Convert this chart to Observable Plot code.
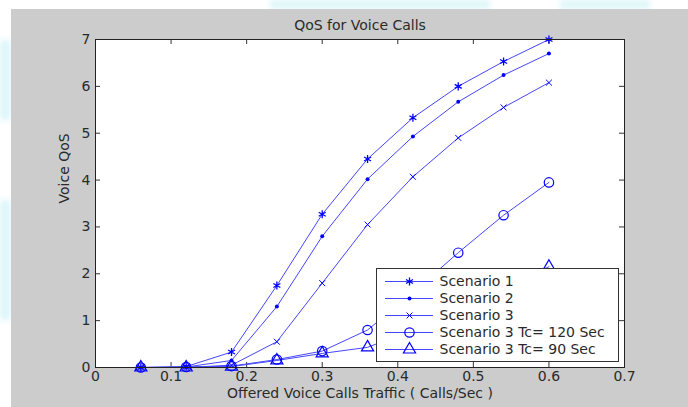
<!DOCTYPE html>
<html><head><meta charset="utf-8">
<script src="https://cdn.jsdelivr.net/npm/d3@7"></script>
<script src="https://cdn.jsdelivr.net/npm/@observablehq/plot@0.6"></script>
<style>
body{margin:0;width:688px;height:407px;overflow:hidden;background:#fff;position:relative;font-family:"DejaVu Sans",sans-serif;}
#bg{position:absolute;left:11px;top:9px;width:677px;height:398px;background:#cccccc;}
.wm{position:absolute;background:#dcf6fa;filter:blur(3px);}
#chart{position:absolute;left:0;top:0;}
#legend{position:absolute;left:376px;top:268px;width:241px;height:92px;background:#fff;border:1px solid #333;}
#chart svg, #legend svg{background:transparent;}
</style>
</head><body>
<div class="wm" style="left:0;top:40px;width:11px;height:80px;"></div>
<div class="wm" style="left:0;top:200px;width:11px;height:120px;"></div>
<div class="wm" style="left:270px;top:0;width:220px;height:9px;"></div>
<div class="wm" style="left:560px;top:0;width:90px;height:9px;"></div>
<div id="bg"></div>
<div id="chart"></div>
<div id="legend"></div>
<script>
const xValues = [0.06, 0.12, 0.18, 0.24, 0.30, 0.36, 0.42, 0.48, 0.54, 0.60];
const seriesNames = ["Scenario 1", "Scenario 2", "Scenario 3", "Scenario 3 Tc= 120 Sec", "Scenario 3 Tc= 90 Sec"];
const scenario1 = [0.00, 0.02, 0.33, 1.75, 3.27, 4.45, 5.33, 6.00, 6.53, 7.00];
const scenario2 = [0.00, 0.01, 0.15, 1.30, 2.80, 4.02, 4.93, 5.67, 6.24, 6.70];
const scenario3 = [0.00, 0.00, 0.05, 0.55, 1.80, 3.05, 4.07, 4.90, 5.55, 6.08];
const scenario3Tc120 = [0.00, 0.01, 0.03, 0.17, 0.35, 0.80, 1.60, 2.45, 3.25, 3.95];
const scenario3Tc90 = [0.00, 0.00, 0.02, 0.15, 0.30, 0.43, 0.80, 1.25, 1.70, 2.15];
const xTicks = [0, 0.1, 0.2, 0.3, 0.4, 0.5, 0.6, 0.7];
const xTickLabels = ["0", "0.1", "0.2", "0.3", "0.4", "0.5", "0.6", "0.7"];
const yTicks = [0, 1, 2, 3, 4, 5, 6, 7];
const yTickLabels = ["0", "1", "2", "3", "4", "5", "6", "7"];
const titleText = "QoS for Voice Calls";
const xLabel = "Offered Voice Calls Traffic ( Calls/Sec )";
const yLabel = "Voice QoS";

const seriesValues = [scenario1, scenario2, scenario3, scenario3Tc120, scenario3Tc90];
const rows = [];
seriesNames.forEach((s, i) => xValues.forEach((x, j) => rows.push({series: s, x, y: seriesValues[i][j]})));

const W = 688, H = 407, mL = 95, mR = 64, mT = 39, mB = 40;
const fw = W - mL - mR, fh = H - mT - mB;
const blue = "#0000ff";
const lineColor = "#4646ff";
const textColor = "#2a2a2a";
const font = '"DejaVu Sans", sans-serif';
const styles = [
  {symbol: "asterisk", r: 3.8, fill: "none", strokeWidth: 1.3},
  {symbol: "circle", r: 2, fill: blue, strokeWidth: 0},
  {symbol: "times", r: 2.8, fill: "none", strokeWidth: 1},
  {symbol: "circle", r: 4.7, fill: "none", strokeWidth: 1.2},
  {symbol: "triangle", r: 4.5, fill: "none", strokeWidth: 1.2}
];

const dots = seriesNames.map((s, i) => Plot.dot(rows.filter(d => d.series === s), {
  x: "x", y: "y", symbol: () => styles[i].symbol, r: styles[i].r,
  stroke: blue, fill: styles[i].fill, strokeWidth: styles[i].strokeWidth
}));

const chart = Plot.plot({
  width: W, height: H,
  marginLeft: mL, marginRight: mR, marginTop: mT, marginBottom: mB,
  style: {fontFamily: font, fontSize: "14px", color: textColor, background: "transparent"},
  x: {domain: [0, 0.7]},
  y: {domain: [0, 7]},
  symbol: {type: "identity"},
  marks: [
    Plot.frame({fill: "white", stroke: "none"}),
    Plot.tickX(xTicks, {x: d => d, insetTop: fh - 5, stroke: "#333"}),
    Plot.tickX(xTicks, {x: d => d, insetBottom: fh - 5, stroke: "#333"}),
    Plot.tickY(yTicks, {y: d => d, insetRight: fw - 5, stroke: "#333"}),
    Plot.tickY(yTicks, {y: d => d, insetLeft: fw - 5, stroke: "#333"}),
    Plot.axisX(xTicks, {tickSize: 0, tickPadding: 4, fontSize: 14, fill: textColor, label: null, tickFormat: (d, i) => xTickLabels[i]}),
    Plot.axisY(yTicks, {tickSize: 0, tickPadding: 5, fontSize: 14, fill: textColor, label: null, tickFormat: (d, i) => yTickLabels[i]}),
    Plot.line(rows, {x: "x", y: "y", z: "series", stroke: lineColor, strokeWidth: 1}),
    ...dots,
    Plot.frame({stroke: "#222", strokeWidth: 1}),
    Plot.text([titleText], {text: d => d, frameAnchor: "top", lineAnchor: "middle", dy: -14, fontSize: 14, fill: textColor}),
    Plot.text([xLabel], {text: d => d, frameAnchor: "bottom", lineAnchor: "middle", dy: 26, fontSize: 14, fill: textColor}),
    Plot.text([yLabel], {text: d => d, frameAnchor: "left", lineAnchor: "middle", dx: -31, rotate: -90, fontSize: 14, fill: textColor})
  ]
});
document.getElementById("chart").appendChild(chart);

const LW = 241, LH = 92;
const legend = Plot.plot({
  width: LW, height: LH, margin: 0,
  style: {fontFamily: font, fontSize: "14px", background: "transparent"},
  x: {axis: null, domain: [0, 1]},
  y: {axis: null, type: "point", domain: seriesNames, range: [10, 81], padding: 0},
  marks: [
    Plot.ruleY(seriesNames, {y: d => d, insetLeft: 8, insetRight: LW - 56, stroke: lineColor, strokeWidth: 1}),
    ...seriesNames.map((s, i) => Plot.dot([s], {
      y: d => d, frameAnchor: "left", dx: 32, symbol: styles[i].symbol, r: styles[i].r,
      stroke: blue, fill: styles[i].fill, strokeWidth: styles[i].strokeWidth
    })),
    Plot.text(seriesNames, {y: d => d, text: d => d, frameAnchor: "left", dx: 62, textAnchor: "start", fill: textColor, fontSize: 14})
  ]
});
document.getElementById("legend").appendChild(legend);
</script>
</body></html>
